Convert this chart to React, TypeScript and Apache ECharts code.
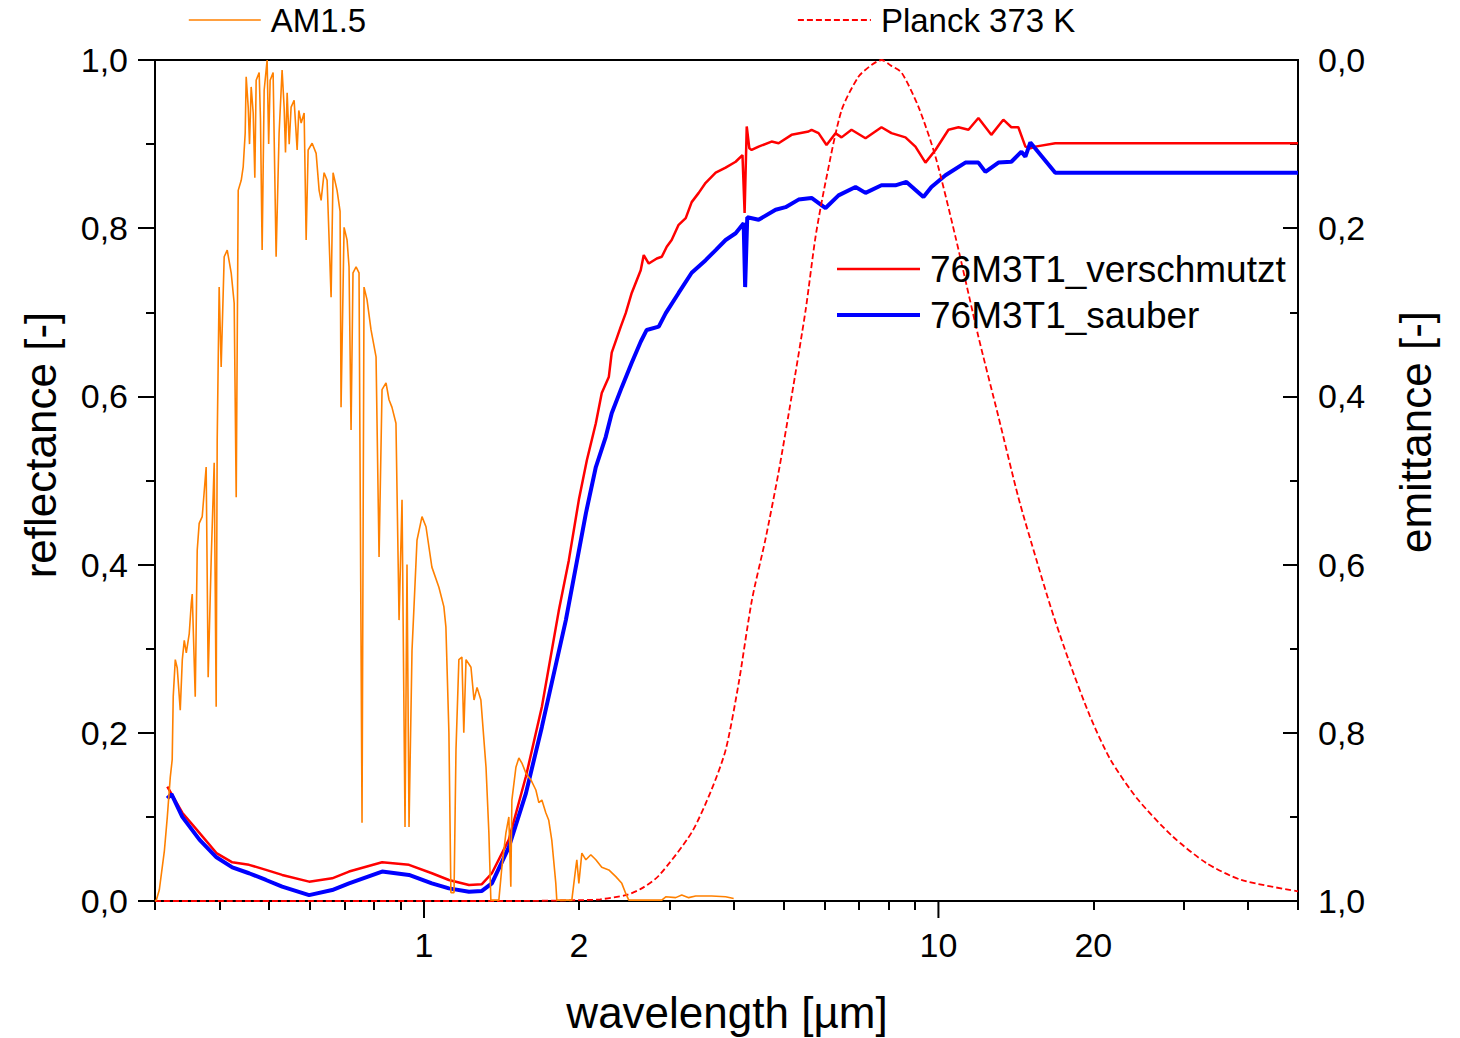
import React, { useEffect, useRef } from "react";
import * as echarts from "echarts";

const FONT = '"Liberation Sans", Arial, Helvetica, sans-serif';

// ---- x axis ticks / labels (wavelength, µm) ----
const minorTickValues = [0.3, 0.4, 0.5, 0.6, 0.7, 0.8, 0.9, 2, 3, 4, 5, 6, 7, 8, 9, 20, 30, 40, 50];
const majorTickValues = [1, 10];
const xLabelValues = [1, 2, 10, 20];

// ---- AM1.5 solar spectrum (normalised) ----
const amWl = [
  0.300, 0.3017, 0.3058, 0.3129, 0.317, 0.3212, 0.324, 0.3255, 0.3285, 0.3314, 0.3359, 0.339, 0.342, 0.3451,
  0.3497, 0.3529, 0.3544, 0.3592, 0.3624, 0.3656, 0.3706, 0.3772, 0.3806, 0.3859, 0.391, 0.3945, 0.3963,
  0.3998, 0.4034, 0.4089, 0.4145, 0.4219, 0.4276, 0.4315, 0.4354, 0.4413, 0.4452, 0.4492, 0.4512, 0.4553,
  0.458, 0.4614, 0.4656, 0.469, 0.4718, 0.4782, 0.481, 0.4846, 0.489, 0.4955, 0.499, 0.5023, 0.509, 0.5159,
  0.5228, 0.5299, 0.5347, 0.538, 0.542, 0.547, 0.5517, 0.5592, 0.5668, 0.571, 0.5771, 0.5848, 0.5901, 0.5954,
  0.6061, 0.6171, 0.6254, 0.631, 0.6395, 0.6481, 0.6598, 0.6657, 0.6777, 0.6869, 0.6899, 0.6993, 0.7087,
  0.715, 0.7215, 0.7278, 0.7379, 0.7477, 0.7578, 0.7646, 0.7749, 0.789, 0.8069, 0.8178, 0.8288, 0.8437,
  0.8551, 0.8666, 0.8821, 0.8944, 0.9064, 0.9186, 0.9268, 0.9352, 0.9478, 0.9563, 0.9692, 0.9911, 1.009,
  1.036, 1.069, 1.093, 1.103, 1.118, 1.128, 1.144, 1.154, 1.169, 1.185, 1.195, 1.207, 1.234, 1.251, 1.268,
  1.29, 1.32, 1.337, 1.349, 1.398, 1.417, 1.443, 1.462, 1.475, 1.482, 1.509, 1.529, 1.55, 1.578, 1.614,
  1.65, 1.672, 1.695, 1.725, 1.748, 1.772, 1.804, 1.812, 1.938, 1.973, 1.982, 2.0, 2.027, 2.064, 2.11,
  2.158, 2.216, 2.287, 2.36, 2.424, 2.467, 2.501, 2.899, 2.951, 3.085, 3.17, 3.27, 3.374, 3.624, 3.858, 3.999,
];
const amVal = [
  0.0, 0.001, 0.013, 0.06, 0.1, 0.147, 0.168, 0.243, 0.287, 0.277, 0.227, 0.287, 0.31, 0.295,
  0.318, 0.354, 0.365, 0.243, 0.417, 0.449, 0.457, 0.516, 0.266, 0.409, 0.521, 0.231, 0.548,
  0.73, 0.635, 0.766, 0.774, 0.747, 0.711, 0.48, 0.845, 0.857, 0.873, 0.913, 0.98, 0.944,
  0.9, 0.968, 0.937, 0.86, 0.976, 0.985, 0.93, 0.774, 0.964, 1.0, 0.9, 0.976, 0.985, 0.766,
  0.913, 0.988, 0.944, 0.89, 0.961, 0.9, 0.944, 0.952, 0.893, 0.94, 0.925, 0.937, 0.786, 0.893,
  0.901, 0.889, 0.845, 0.833, 0.866, 0.857, 0.718, 0.866, 0.845, 0.82, 0.587, 0.801, 0.786,
  0.754, 0.56, 0.747, 0.754, 0.747, 0.093, 0.73, 0.715, 0.679, 0.647, 0.409, 0.608, 0.616,
  0.596, 0.587, 0.568, 0.334, 0.477, 0.088, 0.4, 0.088, 0.298, 0.35, 0.429, 0.457, 0.445,
  0.397, 0.373, 0.35, 0.326, 0.2, 0.01, 0.01, 0.18, 0.287, 0.29, 0.2, 0.287, 0.278, 0.239, 0.254,
  0.239, 0.159, 0.081, 0.001, 0.001, 0.04, 0.081, 0.1, 0.017, 0.12, 0.159, 0.17, 0.164, 0.152, 0.144,
  0.132, 0.117, 0.12, 0.105, 0.096, 0.072, 0.021, 0.001, 0.001, 0.04, 0.049, 0.021, 0.057, 0.049, 0.055,
  0.049, 0.04, 0.037, 0.029, 0.021, 0.009, 0.001, 0.001, 0.005, 0.004, 0.007, 0.004, 0.006, 0.006, 0.005, 0.003,
];

// ---- Planck 373 K (normalised) ----
const planckWl = [
  0.3, 1.5, 2.0, 2.2, 2.47, 2.65, 2.86, 3.31, 3.62, 3.86, 4.09, 4.34, 4.61, 4.89, 5.18, 5.52, 5.77, 6.03,
  6.48, 6.99, 7.41, 7.75, 8.1, 8.48, 9.15, 9.87, 10.79, 11.96, 13.08, 14.3, 15.5, 16.6, 17.9, 19.7, 21.6,
  24.4, 28.5, 33.2, 38.8, 50,
];
const planckVal = [
  0, 0, 0.001, 0.002, 0.007, 0.015, 0.03, 0.081, 0.132, 0.18, 0.259, 0.358, 0.43, 0.51, 0.599, 0.703, 0.79, 0.854,
  0.94, 0.98, 0.994, 1.0, 0.993, 0.985, 0.944, 0.885, 0.79, 0.671, 0.576, 0.48, 0.406, 0.346, 0.287, 0.22, 0.168,
  0.121, 0.077, 0.045, 0.025, 0.0115,
];

// ---- 76M3T1_verschmutzt (reflectance) ----
const dirtyWl = [
  0.317, 0.339, 0.366, 0.395, 0.424, 0.457, 0.493, 0.53, 0.598, 0.663, 0.715, 0.829, 0.935, 1.036, 1.118,
  1.223, 1.296, 1.355, 1.462, 1.578, 1.695, 1.828, 1.912, 2.0, 2.073, 2.158, 2.216, 2.287, 2.317, 2.413,
  2.467, 2.534, 2.638, 2.674, 2.735, 2.835, 2.899, 2.964, 3.03, 3.126, 3.227, 3.314, 3.42, 3.528, 3.69,
  3.858, 4.035, 4.16, 4.2, 4.24, 4.29, 4.334, 4.472, 4.739, 4.89, 5.182, 5.592, 5.667, 5.848, 6.06, 6.31,
  6.481, 6.777, 7.216, 7.75, 8.104, 8.628, 9.022, 9.436, 9.867, 10.46, 10.94, 11.44, 11.96, 12.67, 13.37,
  13.86, 14.3, 14.76, 15.09, 15.43, 16.87, 50,
];
const dirtyVal = [
  0.136, 0.105, 0.081, 0.057, 0.046, 0.043, 0.037, 0.031, 0.023, 0.027, 0.035, 0.046, 0.043, 0.033, 0.025,
  0.019, 0.02, 0.033, 0.073, 0.148, 0.231, 0.345, 0.405, 0.477, 0.524, 0.568, 0.604, 0.623, 0.652, 0.683,
  0.699, 0.723, 0.75, 0.768, 0.758, 0.764, 0.766, 0.778, 0.786, 0.804, 0.812, 0.831, 0.842, 0.854, 0.866,
  0.872, 0.879, 0.887, 0.818, 0.921, 0.895, 0.893, 0.897, 0.903, 0.901, 0.911, 0.915, 0.917, 0.913, 0.899, 0.913,
  0.908, 0.917, 0.907, 0.92, 0.913, 0.908, 0.897, 0.878, 0.893, 0.917, 0.92, 0.917, 0.931, 0.911, 0.929,
  0.92, 0.92, 0.897, 0.895, 0.897, 0.901, 0.901,
];

// ---- 76M3T1_sauber (reflectance) ----
const cleanWl = [
  0.317, 0.323, 0.339, 0.366, 0.395, 0.424, 0.457, 0.493, 0.53, 0.598, 0.663, 0.715, 0.829, 0.935, 1.036,
  1.118, 1.223, 1.296, 1.355, 1.462, 1.578, 1.695, 1.887, 1.973, 2.064, 2.158, 2.256, 2.317, 2.424, 2.534,
  2.638, 2.71, 2.86, 2.951, 3.126, 3.314, 3.528, 3.69, 3.858, 4.035, 4.182, 4.21, 4.25, 4.472, 4.825, 5.045,
  5.347, 5.667, 6.034, 6.395, 6.9, 7.216, 7.75, 8.25, 8.666, 9.352, 9.692, 10.32, 11.28, 11.96, 12.34,
  13.08, 13.86, 14.5, 14.76, 15.09, 16.87, 50,
];
const cleanVal = [
  0.122, 0.127, 0.1, 0.073, 0.052, 0.04, 0.033, 0.025, 0.017, 0.007, 0.013, 0.021, 0.035, 0.031, 0.021,
  0.015, 0.011, 0.012, 0.021, 0.064, 0.128, 0.207, 0.334, 0.397, 0.461, 0.516, 0.552, 0.58, 0.611, 0.64,
  0.665, 0.679, 0.683, 0.699, 0.723, 0.747, 0.762, 0.774, 0.786, 0.794, 0.806, 0.73, 0.813, 0.81, 0.822, 0.825,
  0.834, 0.836, 0.824, 0.839, 0.849, 0.842, 0.851, 0.851, 0.855, 0.837, 0.849, 0.863, 0.878, 0.878, 0.867,
  0.878, 0.879, 0.891, 0.885, 0.902, 0.866, 0.866,
];

const pairs = (xs: number[], ys: number[]) => xs.map((x, i) => [x, ys[i]]);
const comma = (v: number) => v.toFixed(1).replace(".", ",");

export default function App() {
  const ref = useRef<HTMLDivElement>(null);

  useEffect(() => {
    if (!ref.current) return;
    const chart = echarts.init(ref.current, null, { renderer: "svg" });
    const black = "#000";
    const legendBase = {
      padding: 0,
      itemHeight: 2,
      selectedMode: false,
      itemStyle: { opacity: 0 },
    };
    chart.setOption({
      animation: false,
      backgroundColor: "#fff",
      textStyle: { fontFamily: FONT },
      grid: {
        left: 155,
        right: 162,
        top: 60,
        bottom: 137,
        show: true,
        borderColor: black,
        borderWidth: 2,
        backgroundColor: "transparent",
        containLabel: false,
        outerBoundsMode: "none",
      },
      legend: [
        {
          ...legendBase,
          data: [{ name: "AM1.5", lineStyle: { width: 1.6 } }],
          left: 188,
          top: 3.5,
          itemWidth: 72,
          textStyle: { fontSize: 33, color: black, fontFamily: FONT, padding: [0, 0, 0, 5] },
        },
        {
          ...legendBase,
          data: [{ name: "Planck 373 K", lineStyle: { width: 1.8 } }],
          left: 797,
          top: 3.5,
          itemWidth: 73,
          textStyle: { fontSize: 33, color: black, fontFamily: FONT, padding: [0, 0, 0, 5] },
        },
        {
          ...legendBase,
          data: [
            { name: "76M3T1_verschmutzt", lineStyle: { width: 2.5 } },
            { name: "76M3T1_sauber", lineStyle: { width: 4 } },
          ],
          orient: "vertical",
          left: 835,
          top: 250.5,
          itemGap: 9,
          itemWidth: 83,
          textStyle: { fontSize: 37, color: black, fontFamily: FONT, padding: [0, 0, 0, 5] },
        },
      ],
      xAxis: [
        {
          type: "log",
          logBase: 10,
          min: 0.3,
          max: 50,
          position: "bottom",
          splitLine: { show: false },
          minorTick: { show: false },
          axisLine: { show: true, lineStyle: { color: black, width: 2 } },
          axisTick: {
            show: true,
            inside: false,
            length: 9,
            customValues: minorTickValues,
            lineStyle: { color: black, width: 2 },
          },
          axisLabel: {
            show: true,
            customValues: xLabelValues,
            formatter: (v: number) => String(Math.round(v)),
            fontSize: 34,
            color: black,
            fontFamily: FONT,
            margin: 27,
          },
        },
      ],
      yAxis: [
        {
          type: "value",
          position: "left",
          min: 0,
          max: 1,
          interval: 0.2,
          splitLine: { show: false },
          axisLine: { show: true, lineStyle: { color: black, width: 2 } },
          axisTick: { show: true, inside: false, length: 17, lineStyle: { color: black, width: 2 } },
          minorTick: { show: true, splitNumber: 2, length: 9, lineStyle: { color: black, width: 2 } },
          axisLabel: { formatter: comma, fontSize: 34, color: black, fontFamily: FONT, margin: 27 },
        },
        {
          type: "value",
          position: "right",
          inverse: true,
          min: 0,
          max: 1,
          interval: 0.2,
          splitLine: { show: false },
          axisLine: { show: true, lineStyle: { color: black, width: 2 } },
          axisTick: { show: true, inside: true, length: 15, lineStyle: { color: black, width: 2 } },
          minorTick: { show: true, splitNumber: 2, length: 8, lineStyle: { color: black, width: 2 } },
          axisLabel: { formatter: comma, fontSize: 34, color: black, fontFamily: FONT, margin: 20 },
        },
      ],
      graphic: [
        {
          type: "text",
          x: 40,
          y: 445,
          rotation: Math.PI / 2,
          style: {
            text: "reflectance [-]",
            fontSize: 44,
            fontFamily: FONT,
            fill: black,
            align: "center",
            verticalAlign: "middle",
          },
        },
        {
          type: "text",
          x: 1415,
          y: 432,
          rotation: Math.PI / 2,
          style: {
            text: "emittance [-]",
            fontSize: 44,
            fontFamily: FONT,
            fill: black,
            align: "center",
            verticalAlign: "middle",
          },
        },
        {
          type: "text",
          x: 727,
          y: 1012,
          style: {
            text: "wavelength [µm]",
            fontSize: 44,
            fontFamily: FONT,
            fill: black,
            align: "center",
            verticalAlign: "middle",
          },
        },
      ],
      series: [
        {
          name: "76M3T1_verschmutzt",
          type: "line",
          data: pairs(dirtyWl, dirtyVal),
          showSymbol: false,
          symbol: "none",
          lineStyle: { color: "#ff0000", width: 2.5 },
          itemStyle: { color: "#ff0000" },
          silent: true,
        },
        {
          name: "76M3T1_sauber",
          type: "line",
          data: pairs(cleanWl, cleanVal),
          showSymbol: false,
          symbol: "none",
          lineStyle: { color: "#0000ff", width: 4 },
          itemStyle: { color: "#0000ff" },
          silent: true,
        },
        {
          name: "Planck 373 K",
          type: "line",
          data: pairs(planckWl, planckVal),
          showSymbol: false,
          symbol: "none",
          smooth: 0.25,
          lineStyle: { color: "#ff0000", width: 1.8, type: [6, 3] },
          itemStyle: { color: "#ff0000" },
          silent: true,
        },
        {
          name: "AM1.5",
          type: "line",
          data: pairs(amWl, amVal),
          showSymbol: false,
          symbol: "none",
          lineStyle: { color: "#ff8000", width: 1.6 },
          itemStyle: { color: "#ff8000" },
          silent: true,
        },
        {
          name: "majorTicks",
          type: "custom",
          data: majorTickValues.map((v) => [v, 0]),
          clip: false,
          silent: true,
          renderItem: (_params: any, api: any) => {
            const p = api.coord([api.value(0), 0]);
            return {
              type: "line",
              shape: { x1: p[0], y1: p[1], x2: p[0], y2: p[1] + 17 },
              style: { stroke: black, lineWidth: 2 },
            };
          },
        },
      ],
    });
    return () => chart.dispose();
  }, []);

  return (
    <div
      ref={ref}
      style={{ position: "fixed", left: 0, top: 0, width: 1460, height: 1038, background: "#fff" }}
    />
  );
}
